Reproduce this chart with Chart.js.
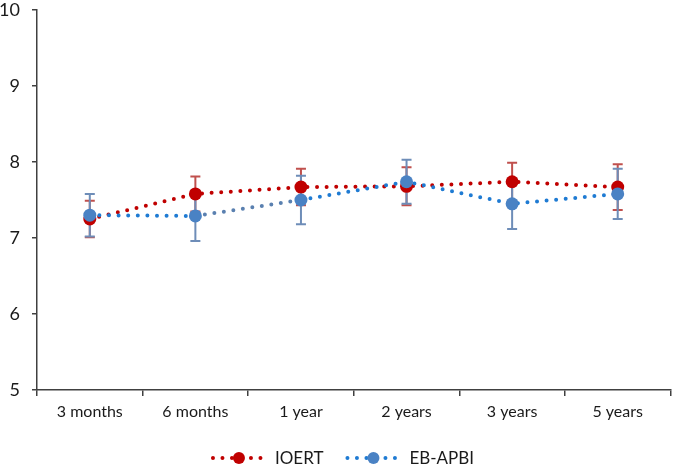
<!DOCTYPE html>
<html>
<head>
<meta charset="utf-8">
<script src="https://cdn.jsdelivr.net/npm/chart.js@4.4.0/dist/chart.umd.min.js"></script>
<style>
  html, body { margin: 0; padding: 0; background: #ffffff; }
  #wrap { width: 677px; height: 466px; }
</style>
</head>
<body>
<div id="wrap"><canvas id="c" width="677" height="466"></canvas></div>
<script>
const categories = ["3 months", "6 months", "1 year", "2 years", "3 years", "5 years"];
const seriesNames = ["IOERT", "EB-APBI"];
const ioertValues = [7.25, 7.58, 7.67, 7.68, 7.74, 7.67];
const ioertErrors = [0.24, 0.23, 0.24, 0.25, 0.25, 0.30];
const ebapbiValues = [7.30, 7.29, 7.50, 7.74, 7.45, 7.58];
const ebapbiErrors = [0.28, 0.33, 0.32, 0.29, 0.33, 0.33];
const yTicks = [5, 6, 7, 8, 9, 10];

const RED = "#C00000";
const RED_ERR = "#C0504D";
const BLUE_LINE = "#1F7BD3";
const BLUE_LINE2 = "#5A80B0";
const BLUE_MARK = "#4A82C4";
const BLUE_ERR = "#6E8DB8";
const FONT = "Lato, 'Open Sans', sans-serif";

const errorBarPlugin = {
  id: "errorBars",
  beforeDatasetsDraw(chart) {
    const ctx = chart.ctx;
    const yS = chart.scales.y;
    chart.data.datasets.forEach((ds, di) => {
      const meta = chart.getDatasetMeta(di);
      ctx.save();
      ctx.strokeStyle = ds.errorColor;
      ctx.lineWidth = 2;
      meta.data.forEach((pt, i) => {
        const v = ds.data[i], e = ds.errors[i];
        const x = pt.x;
        const yTop = yS.getPixelForValue(v + e);
        const yBot = yS.getPixelForValue(v - e);
        ctx.beginPath();
        ctx.moveTo(x, yTop); ctx.lineTo(x, yBot);
        ctx.moveTo(x - 5, yTop); ctx.lineTo(x + 5, yTop);
        ctx.moveTo(x - 5, yBot); ctx.lineTo(x + 5, yBot);
        ctx.stroke();
      });
      ctx.restore();
    });
  }
};

const legendPlugin = {
  id: "customLegend",
  afterDraw(chart) {
    const ctx = chart.ctx;
    ctx.save();
    ctx.font = "17px " + FONT;
    const symW = 56, gapText = 8, gapItem = 22;
    const items = chart.data.datasets.map(ds => ({
      ds, w: symW + gapText + ctx.measureText(ds.label).width
    }));
    const total = items.reduce((a, b) => a + b.w, 0) + gapItem * (items.length - 1);
    let x = (chart.width - total) / 2 + 4;
    const y = 458;
    items.forEach(it => {
      const ds = it.ds;
      ctx.strokeStyle = ds.borderColor;
      ctx.lineWidth = 4;
      ctx.lineCap = "round";
      ctx.setLineDash([0, 9.5]);
      ctx.beginPath();
      ctx.moveTo(x + 2, y); ctx.lineTo(x + symW, y);
      ctx.stroke();
      ctx.setLineDash([]);
      ctx.fillStyle = ds.pointBackgroundColor;
      ctx.beginPath();
      ctx.arc(x + symW / 2, y, 6, 0, Math.PI * 2);
      ctx.fill();
      ctx.fillStyle = "#1a1a1a";
      ctx.textBaseline = "middle";
      ctx.textAlign = "left";
      ctx.fillText(ds.label, x + symW + gapText, y + 1);
      x += it.w + gapItem;
    });
    ctx.restore();
  }
};

new Chart(document.getElementById("c"), {
  type: "line",
  data: {
    labels: categories,
    datasets: [
      {
        label: seriesNames[0],
        data: ioertValues,
        errors: ioertErrors,
        errorColor: RED_ERR,
        borderColor: RED,
        borderWidth: 4,
        borderDash: [0, 9.6],
        borderCapStyle: "round",
        pointRadius: 6.5,
        pointBackgroundColor: RED,
        pointBorderColor: RED,
        pointBorderWidth: 0,
        tension: 0,
        order: 1
      },
      {
        label: seriesNames[1],
        data: ebapbiValues,
        errors: ebapbiErrors,
        errorColor: BLUE_ERR,
        borderColor: BLUE_LINE,
        borderWidth: 4,
        borderDash: [0, 9.6],
        borderCapStyle: "round",
        segment: {
          borderColor: c => (c.p0DataIndex === 1 ? BLUE_LINE2 : BLUE_LINE)
        },
        pointRadius: 6.5,
        pointBackgroundColor: BLUE_MARK,
        pointBorderColor: BLUE_MARK,
        pointBorderWidth: 0,
        tension: 0,
        order: 0
      }
    ]
  },
  options: {
    responsive: false,
    animation: false,
    devicePixelRatio: 1,
    layout: { padding: { top: 0, right: 0, left: 0, bottom: 42 } },
    plugins: {
      legend: { display: false },
      tooltip: { enabled: false }
    },
    scales: {
      x: {
        offset: true,
        grid: {
          display: true,
          offset: true,
          drawOnChartArea: false,
          drawTicks: true,
          tickLength: 6,
          color: "#404040",
          lineWidth: 1.5
        },
        border: { display: true, color: "#404040", width: 1.5 },
        ticks: {
          color: "#1a1a1a",
          font: { family: FONT, size: 16 },
          padding: 6,
          maxRotation: 0
        },
        afterFit(s) { s.height = 34; }
      },
      y: {
        min: 5,
        max: 10,
        afterBuildTicks(s) { s.ticks = yTicks.map(v => ({ value: v })); },
        grid: {
          display: true,
          drawOnChartArea: false,
          drawTicks: true,
          tickLength: 5,
          color: "#404040",
          lineWidth: 1.5
        },
        border: { display: true, color: "#404040", width: 1.5 },
        ticks: {
          color: "#1a1a1a",
          font: { family: FONT, size: 18 },
          padding: 12
        },
        afterFit(s) { s.width = 37; s.paddingTop = 10; s.paddingBottom = 0; }
      }
    }
  },
  plugins: [errorBarPlugin, legendPlugin]
});
</script>
</body>
</html>
